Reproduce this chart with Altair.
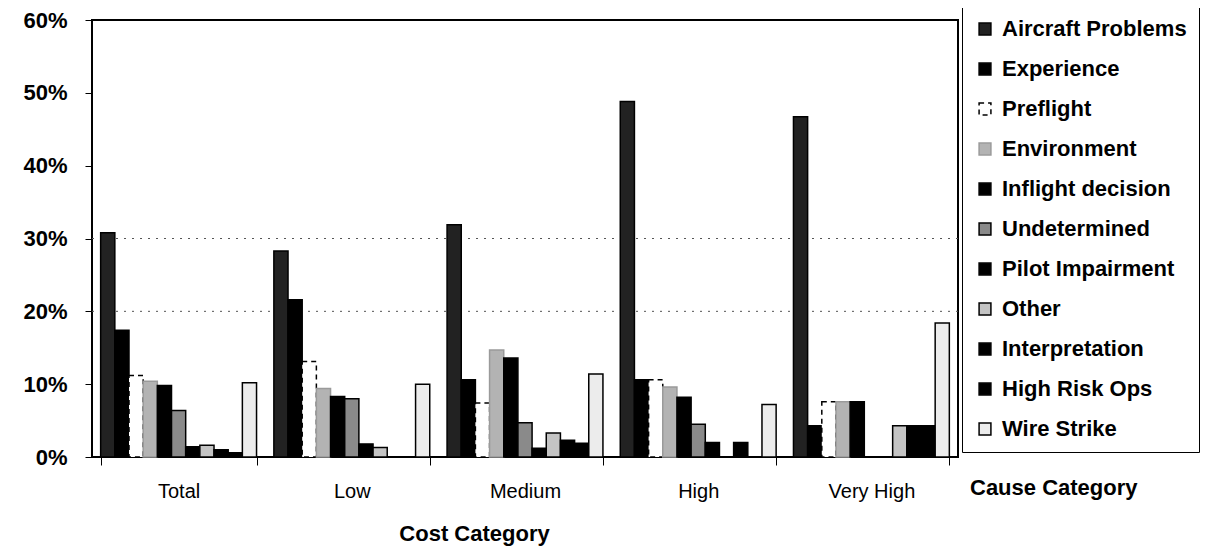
import altair as alt
import pandas as pd

cost_categories = ["Total", "Low", "Medium", "High", "Very High"]
causes = ["Aircraft Problems", "Experience", "Preflight", "Environment",
          "Inflight decision", "Undetermined", "Pilot Impairment", "Other",
          "Interpretation", "High Risk Ops", "Wire Strike"]

total_vals = [30.8, 17.4, 11.2, 10.4, 9.8, 6.4, 1.4, 1.6, 1.0, 0.6, 10.2]
low_vals = [28.3, 21.6, 13.1, 9.4, 8.3, 8.0, 1.8, 1.3, 0.0, 0.0, 10.0]
medium_vals = [31.9, 10.6, 7.4, 14.7, 13.6, 4.7, 1.2, 3.3, 2.3, 1.9, 11.4]
high_vals = [48.8, 10.6, 10.6, 9.6, 8.2, 4.5, 2.0, 0.0, 2.0, 0.0, 7.2]
very_high_vals = [46.7, 4.3, 7.6, 7.6, 7.6, 0.0, 0.0, 4.3, 4.3, 4.3, 18.4]

y_ticks = [0, 10, 20, 30, 40, 50, 60]
grid_levels = [20, 30]
x_title = "Cost Category"
legend_title = "Cause Category"

fills = ["#222222", "#000000", "#ffffff", "#b3b3b3", "#000000", "#8a8a8a",
         "#000000", "#c4c4c4", "#000000", "#000000", "#ececec"]
strokes = ["#000000", "#000000", "#000000", "#9a9a9a", "#000000", "#000000",
           "#000000", "#000000", "#000000", "#000000", "#000000"]
dashes = [[1, 0], [1, 0], [5, 4], [1, 0], [1, 0], [1, 0],
          [1, 0], [1, 0], [1, 0], [1, 0], [1, 0]]
widths = [1.5, 1.5, 2, 1, 1.5, 2, 1.5, 2, 1.5, 1.5, 3]

rows = []
for cat, vals in zip(cost_categories,
                     [total_vals, low_vals, medium_vals, high_vals, very_high_vals]):
    for cause, v in zip(causes, vals):
        rows.append({"cost": cat, "cause": cause, "value": v})
df = pd.DataFrame(rows)

FONT = "Liberation Sans"

bars = alt.Chart(df).mark_bar().encode(
    x=alt.X("cost:N", sort=cost_categories,
            scale=alt.Scale(paddingInner=0.1, paddingOuter=0.05),
            axis=alt.Axis(title=x_title, labelAngle=0, tickBand="extent",
                          tickSize=8, tickColor="black", labelPadding=16,
                          labelFontSize=20, labelFont=FONT, labelColor="black",
                          domain=False, titleFont=FONT, titleFontSize=22,
                          titleFontWeight="bold", titleColor="black",
                          titleX=382, titleY=66, titleAnchor="middle")),
    xOffset=alt.XOffset("cause:N", sort=causes,
                        scale=alt.Scale(paddingInner=0, paddingOuter=0)),
    y=alt.Y("value:Q", scale=alt.Scale(domain=[0, 60], nice=False),
            axis=alt.Axis(title=None, values=y_ticks, grid=False,
                          labelExpr="datum.value + '%'", tickSize=7,
                          tickColor="black", labelPadding=18,
                          labelFontSize=22, labelFont=FONT,
                          labelFontWeight="bold", labelColor="black",
                          domain=False)),
    fill=alt.Fill("cause:N", sort=causes,
                  scale=alt.Scale(domain=causes, range=fills),
                  legend=alt.Legend(title=None, orient="none", legendX=870,
                                    legendY=-14)),
    stroke=alt.Stroke("cause:N", sort=causes,
                      scale=alt.Scale(domain=causes, range=strokes)),
    strokeDash=alt.StrokeDash("cause:N", sort=causes,
                              scale=alt.Scale(domain=causes, range=dashes)),
    strokeWidth=alt.StrokeWidth("cause:N", sort=causes,
                                scale=alt.Scale(domain=causes, range=widths)),
)

grid = alt.Chart(pd.DataFrame({"g": grid_levels})).mark_rule(
    color="#555555", strokeDash=[2, 6], strokeWidth=1
).encode(y="g:Q")

cause_label = alt.Chart(pd.DataFrame({"t": [legend_title]})).mark_text(
    font=FONT, fontSize=22, fontWeight="bold", color="black",
    align="left", baseline="middle"
).encode(x=alt.value(878), y=alt.value(468), text="t:N")

chart = alt.layer(grid, bars, cause_label).properties(
    width=866, height=437,
    autosize=alt.AutoSizeParams(type="none"),
    padding={"left": 84, "top": 12, "right": 248, "bottom": 99},
).configure_view(
    stroke="black", strokeWidth=2
).configure_legend(
    strokeColor="black", padding=12, symbolType="square", symbolSize=140,
    labelFont=FONT, labelFontSize=22, labelFontWeight="bold",
    labelColor="black", rowPadding=18, labelOffset=6, labelLimit=260,
    fillColor="white"
)

chart.save("out.html", embed_options={"renderer": "svg", "actions": False})
